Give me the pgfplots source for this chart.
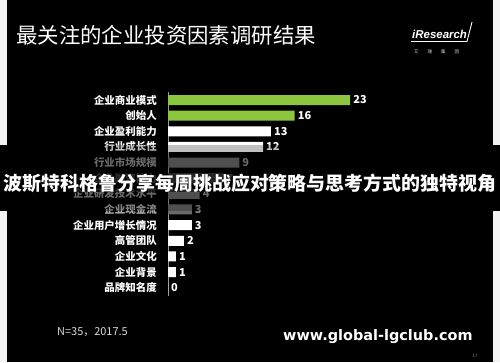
\documentclass[border=0pt]{standalone}
\usepackage{pgfplots}
\pgfplotsset{compat=1.18}
\usepackage{fontspec}
\setmainfont{Liberation Sans}
\newfontfamily\cjk{Noto Sans CJK SC}
\newfontfamily\dvs{DejaVu Sans}
\definecolor{grn}{HTML}{8CC63F}
\definecolor{bargray}{HTML}{6A6A6A}
\definecolor{labgray}{HTML}{8C8C8C}
\definecolor{framew}{HTML}{F2F2F2}
\begin{document}
\begin{tikzpicture}[x=1bp,y=1bp]
\useasboundingbox (0,0) rectangle (500,362);
\fill[framew] (0,0) rectangle (500,362);
\fill[black] (7,0) rectangle (493,362);
% title
\node[anchor=west, inner sep=0pt, text=white, font=\cjk\fontsize{21.5}{24}\selectfont] at (16,327) {最关注的企业投资因素调研结果};
% logo
\node[anchor=west, inner sep=0pt, text=white, font=\bfseries\itshape\fontsize{11.5}{12}\selectfont] at (412,328) {iResearch};
\draw[white, line width=0.9pt] (411,320.5) -- (467,320.5) -- (472,340);
\node[anchor=west, inner sep=0pt, text=white!85!black, font=\cjk\fontsize{4.5}{5}\selectfont] at (414,310) {艾\hspace{9bp}瑞\hspace{9bp}集\hspace{9bp}团};
\begin{axis}[
  at={(168bp,66.5bp)}, anchor=south west,
  width=237.6bp, height=203.3bp, scale only axis,
  xmin=0, xmax=30, ymin=-0.5, ymax=12.5, y dir=reverse,
  xbar, bar width=10bp, bar shift=0pt,
  axis x line=none, axis y line*=left,
  y axis line style={draw=gray!80, line width=0.6pt, -},
  ytick={0,1,2,3,4,5,6,7,8,9,10,11,12},
  yticklabels={
    {\color{white}企业商业模式},
    {\color{white}创始人},
    {\color{white}企业盈利能力},
    {\color{white}行业成长性},
    {\color{labgray}行业市场规模},
    {\color{labgray}企业融资能力},
    {\color{labgray}企业研发技术水平},
    {\color{labgray!70!white}企业现金流},
    {\color{white}企业用户增长情况},
    {\color{white}高管团队},
    {\color{white}企业文化},
    {\color{white}企业背景},
    {\color{white}品牌知名度}},
  major tick length=0pt,
  yticklabel style={font=\cjk\bfseries\fontsize{10.5}{12}\selectfont, inner sep=0pt, xshift=-11bp},
  /pgf/number format/assume math mode=true,
  nodes near coords,
  every node near coord/.append style={font=\cjk\bfseries\fontsize{11}{12}\selectfont, anchor=west, inner sep=0pt, xshift=3bp},
  clip=false,
]
\addplot[xbar, bar shift=0pt, fill=grn, draw=none, every node near coord/.append style={text=white}] coordinates {(23,0) (16,1)};
\addplot[xbar, bar shift=0pt, fill=white, draw=none, every node near coord/.append style={text=white}] coordinates {(13,2) (12,3) (3,8) (2,9) (1,10) (1,11) (0,12)};
\addplot[xbar, bar shift=0pt, fill=bargray, draw=none, every node near coord/.append style={text=labgray}] coordinates {(9,4) (7,5) (4,6) (3,7)};
\end{axis}
% banner overlay
\fill[black] (0,151) rectangle (7,217);
\fill[black] (493,151) rectangle (500,217);
\fill[black, opacity=0.25] (7,151) rectangle (493,217);
\fill[black, opacity=0.55] (7,170) rectangle (493,189);
\node[inner sep=0pt, text=white, font=\cjk\bfseries\fontsize{19}{21}\selectfont] at (250,179) {波斯特科格鲁分享每周挑战应对策略与思考方式的独特视角};
% footer
\node[anchor=west, inner sep=0pt, text=white!85!black, font=\cjk\fontsize{11}{12}\selectfont] at (57,30) {N=35，2017.5};
\node[anchor=west, inner sep=0pt, text=white, font=\dvs\bfseries\fontsize{14.5}{16}\selectfont] at (283,25) {www.global-lgclub.com};
\node[inner sep=0pt, text=gray, font=\fontsize{4.5}{5}\selectfont] at (475,6) {17};
\end{tikzpicture}
\end{document}
